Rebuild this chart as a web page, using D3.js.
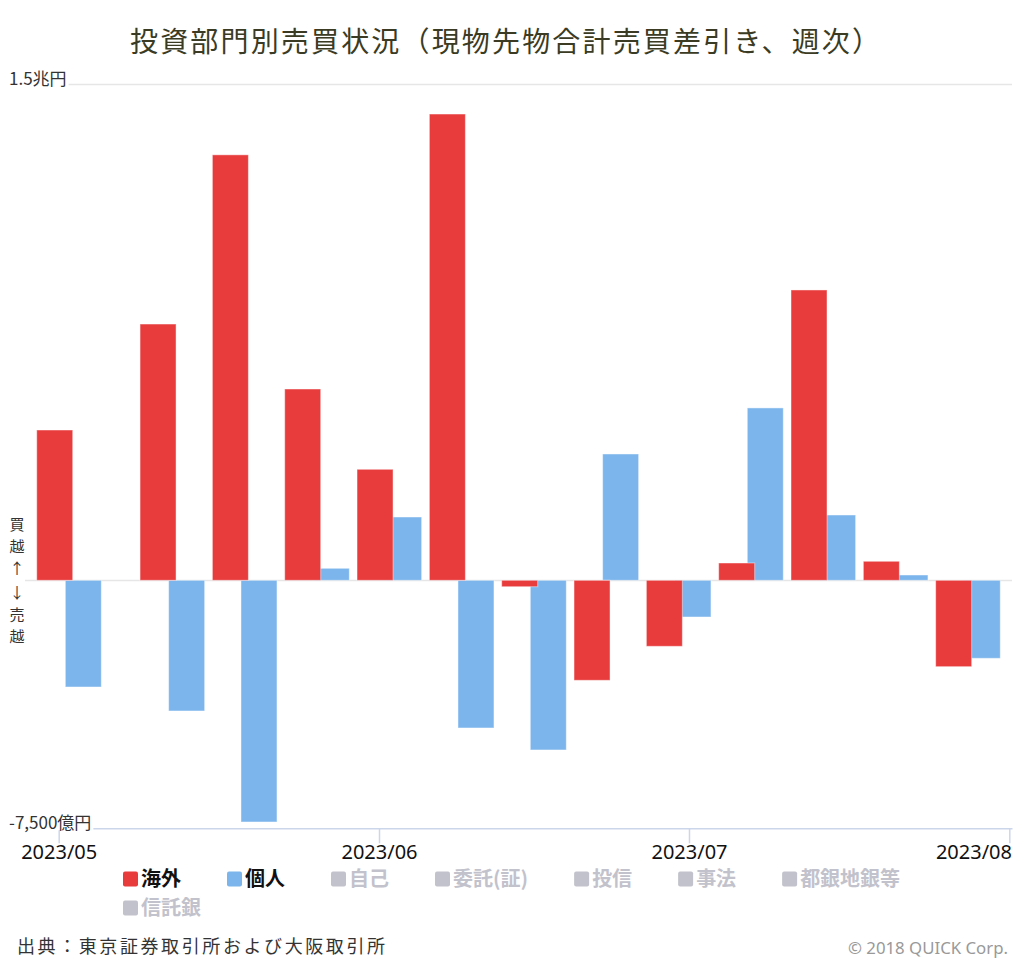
<!DOCTYPE html>
<html><head><meta charset="utf-8">
<script src="https://cdn.jsdelivr.net/npm/d3@7"></script>
<style>
html,body{margin:0;padding:0;background:#fff;}
svg{display:block;font-family:"Noto Sans CJK JP","Noto Sans",sans-serif;}
</style></head>
<body><svg id="chart" width="1024" height="964"></svg>
<script>
// ---- data (億円) ----
const weekDates = ["2023-05-02","2023-05-12","2023-05-19","2023-05-26","2023-06-02","2023-06-09","2023-06-16","2023-06-23","2023-06-30","2023-07-07","2023-07-14","2023-07-21","2023-07-28"];
const overseas = [4545, 7750, 12867, 5785, 3357, 14101, -194, -3024, -1996, 523, 8780, 575, -2612];
const individual = [-3227, -3952, -7309, 363, 1914, -4466, -5131, 3820, -1110, 5213, 1975, 160, -2359];
const seriesNames = ["海外","個人"];
const hiddenSeries = ["自己","委託(証)","投信","事法","都銀地銀等","信託銀"];
const yTickValues = [15000, 0, -7500];
const yTickLabels = ["1.5兆円", "", "-7,500億円"];
const xTickDates = ["2023-05-01","2023-06-01","2023-07-01","2023-08-01"];
const titleText = "投資部門別売買状況（現物先物合計売買差引き、週次）";
const sideLabel = ["買","越","↑","↓","売","越"];
const sourceText = "出典：東京証券取引所および大阪取引所";
const creditText = "© 2018 QUICK Corp.";

const colors = {"海外":"#e83b3c","個人":"#7cb5ec"};
const hiddenColor = "#c2c2cc";

const parse = d3.timeParse("%Y-%m-%d");
const svg = d3.select("#chart");

const plot = {left:25, right:1012, top:84.3, bottom:828.3};

const x = d3.scaleTime()
  .domain([new Date(2023,3,27,17,45), new Date(2023,7,1,6,16)])
  .range([plot.left, plot.right]);
const y = d3.scaleLinear().domain([-7500, 15000]).range([plot.bottom, plot.top]);
const sub = d3.scalePoint().domain(seriesNames).range([-14.3, 14.3]);
const barW = 36;

// title
svg.append("text").attr("x", 130).attr("y", 52)
  .attr("font-size", 28).attr("fill", "#3b3b24")
  .attr("textLength", 750).attr("lengthAdjust", "spacing")
  .text(titleText);

// gridlines
const g = svg.append("g");
g.selectAll("line.grid").data(yTickValues.filter(v => v !== -7500)).join("line")
  .attr("x1", plot.left).attr("x2", plot.right)
  .attr("y1", d => Math.round(y(d)) + 0.5).attr("y2", d => Math.round(y(d)) + 0.5)
  .attr("stroke", "#e6e6e6").attr("stroke-width", 1.5);

// bars
const rows = weekDates.map((d, i) => ({date: parse(d), "海外": overseas[i], "個人": individual[i]}));
["個人","海外"].forEach(s => {
  svg.append("g").selectAll("rect").data(rows).join("rect")
    .attr("x", d => x(d.date) + sub(s) - barW/2)
    .attr("width", barW)
    .attr("y", d => y(Math.max(0, d[s])))
    .attr("height", d => Math.abs(y(d[s]) - y(0)))
    .attr("fill", colors[s])
    .attr("stroke", "#fff").attr("stroke-opacity", 0.45).attr("stroke-width", 1);
});

// x axis
const xAxis = d3.axisBottom(x)
  .tickValues(xTickDates.map(parse))
  .tickFormat(d3.timeFormat("%Y/%m"))
  .tickSize(15).tickSizeOuter(0);
const ax = svg.append("g").attr("transform", `translate(0,${plot.bottom})`).call(xAxis);
ax.select(".domain").attr("stroke", "#ccd6eb").attr("stroke-width", 1.5);
ax.selectAll(".tick line").attr("stroke", "#ccd6eb").attr("stroke-width", 1.5);
ax.selectAll(".tick text").attr("font-size", 20).attr("fill", "#111")
  .attr("font-family", "'Noto Sans','Noto Sans CJK JP',sans-serif")
  .attr("y", 17).attr("dy", "0.71em");
// justify last label inside plot
ax.selectAll(".tick text").each(function(){
  const t = d3.select(this);
  const tr = d3.select(this.parentNode).attr("transform");
  const tx = +tr.match(/translate\(([-\d.]+)/)[1];
  const w = this.getComputedTextLength();
  if (tx + w/2 > plot.right) t.attr("text-anchor","end").attr("x", plot.right - tx);
});

// y labels
const yl = svg.append("g");
yTickValues.forEach((v, i) => {
  if (!yTickLabels[i]) return;
  const grp = yl.append("g");
  const t = grp.append("text").attr("x", 9).attr("y", y(v) + 1)
    .attr("font-size", 17).attr("fill", "#333").text(yTickLabels[i]);
  const bb = t.node().getBBox();
  grp.insert("rect", "text").attr("x", bb.x).attr("y", y(v) - 2).attr("width", bb.width + 2).attr("height", 4).attr("fill", "#fff");
});

// side label
const sideY = [525, 547, 569, 593, 615, 637];
sideLabel.forEach((c, i) => {
  svg.append("text").attr("x", 17).attr("y", sideY[i]).attr("dy", "0.36em")
    .attr("text-anchor","middle").attr("font-size", 15).attr("fill", "#333").text(c);
});

// legend
const legendItems = seriesNames.map(n => ({name:n, color:colors[n], on:true}))
  .concat(hiddenSeries.map(n => ({name:n, color:hiddenColor, on:false})));
let lx = 123, ly = 879;
const itemGap = 46, maxX = 1000;
const lg = svg.append("g");
legendItems.forEach(it => {
  const grp = lg.append("g");
  const txt = grp.append("text").attr("font-size", 20).attr("font-weight", "bold")
    .attr("fill", it.on ? "#111" : hiddenColor).attr("dy", "0.36em").text(it.name);
  const tw = txt.node().getComputedTextLength();
  const w = 18 + tw;
  if (lx + w > maxX) { lx = 123; ly += 29; }
  grp.append("rect").attr("x", lx).attr("y", ly - 7.5).attr("width", 15).attr("height", 15)
    .attr("rx", 2).attr("fill", it.color);
  txt.attr("x", lx + 18).attr("y", ly);
  lx += w + itemGap;
});

// footer
svg.append("text").attr("x", 17).attr("y", 953).attr("font-size", 18)
  .attr("textLength", 368).attr("lengthAdjust", "spacing")
  .attr("fill", "#333").text(sourceText);
svg.append("text").attr("x", 848).attr("y", 954).attr("font-size", 16)
  .attr("textLength", 160).attr("lengthAdjust", "spacingAndGlyphs")
  .attr("fill", "#999").attr("font-family","'Noto Sans',sans-serif").text(creditText);
</script></body></html>
